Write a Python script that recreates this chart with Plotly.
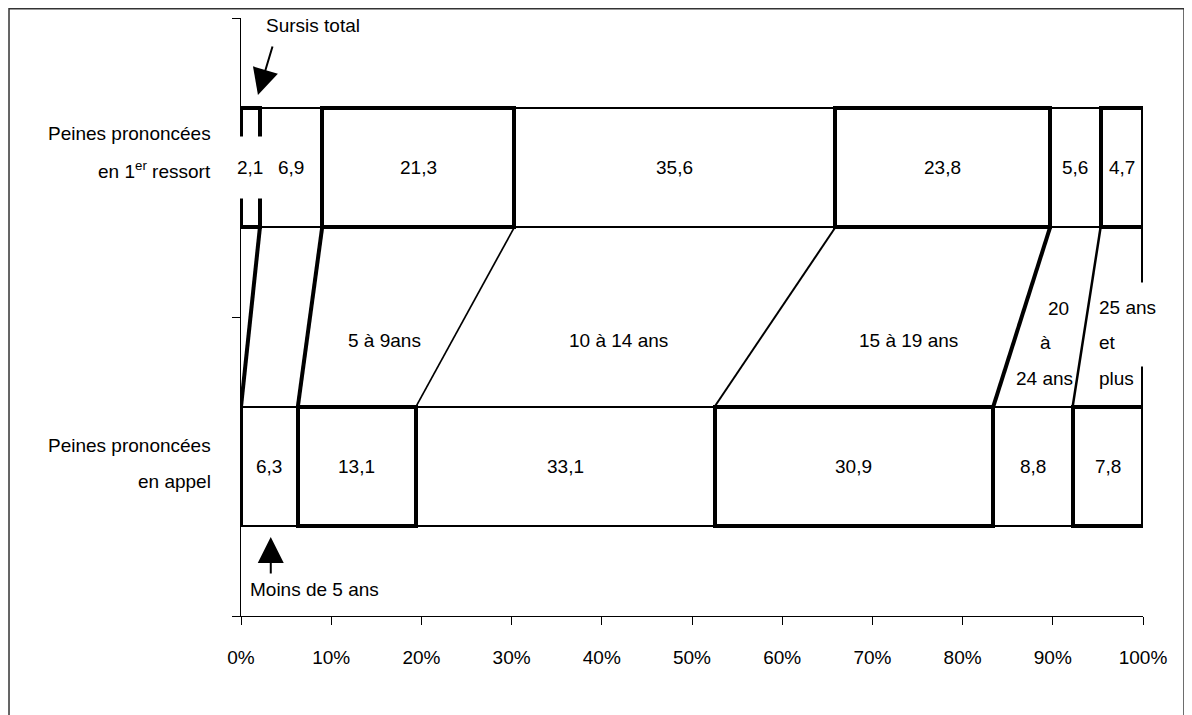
import plotly.graph_objects as go

# ---------------- data ----------------
series_names = ["Sursis total", "Moins de 5 ans", "5 à 9 ans", "10 à 14 ans",
                "15 à 19 ans", "20 à 24 ans", "25 ans et plus"]
first_instance = [2.1, 6.9, 21.3, 35.6, 23.8, 5.6, 4.7]
appeal = [0.0, 6.3, 13.1, 33.1, 30.9, 8.8, 7.8]
cat_positions = [1, 0]          # 1 = 1er ressort (top), 0 = appel (bottom)
x_ticks = [0, 10, 20, 30, 40, 50, 60, 70, 80, 90, 100]

# ---------------- styles ----------------
FONT = "Liberation Sans, Arial, sans-serif"
FS = 19
border_w = [4, 1.7, 4, 1.7, 4, 1.7, 4]
link_w = [4, 4, 1.7, 2, 4, 2.5, 4]
BAR_W = 0.4

def fmt(v):
    return ("%.1f" % v).replace(".", ",")

fig = go.Figure()
for i, name in enumerate(series_names):
    fig.add_trace(go.Bar(
        y=cat_positions, x=[first_instance[i], appeal[i]], name=name,
        orientation="h", width=BAR_W,
        marker=dict(color="rgba(255,255,255,0)", line=dict(color="black", width=border_w[i])),
        hoverinfo="skip", showlegend=False))

# cumulative sums for connecting lines and label positions
cum_top, cum_bot = [], []
s1 = s2 = 0.0
for a, b in zip(first_instance, appeal):
    s1 += a; s2 += b
    cum_top.append(s1); cum_bot.append(s2)

shapes = []
for i in range(len(series_names)):
    shapes.append(dict(type="line", xref="x", yref="y",
                       x0=cum_top[i], y0=cat_positions[0] - BAR_W / 2,
                       x1=cum_bot[i], y1=cat_positions[1] + BAR_W / 2,
                       line=dict(color="black", width=link_w[i])))
# outer frame
shapes.append(dict(type="rect", xref="paper", yref="paper",
                   x0=-0.2572, x1=1.0455, y0=-0.2, y1=1.0155,
                   line=dict(color="#333333", width=1.5), layer="below"))

ann = []
# data labels
for vals, cums, yc in [(first_instance, cum_top, cat_positions[0]), (appeal, cum_bot, cat_positions[1])]:
    for v, c in zip(vals, cums):
        if v <= 0:
            continue
        small = v < 3
        ann.append(dict(x=c - v / 2, y=yc, xref="x", yref="y", text=fmt(v), showarrow=False,
                        font=dict(family=FONT, size=FS, color="black"),
                        bgcolor="white" if small else None, borderpad=20 if small else 0))

# category labels
cat_lines = [("Peines prononcées", 1.1154), ("en 1<sup>er</sup> ressort", 0.9916),
             ("Peines prononcées", 0.0719), ("en appel", -0.0485)]
for t, yy in cat_lines:
    ann.append(dict(x=-0.0310, xref="paper", y=yy, yref="y", text=t, showarrow=False,
                    xanchor="right", font=dict(family=FONT, size=FS, color="black")))

# middle range labels
mid_labels = [("5 à 9ans", 15.96, 0.423), ("10 à 14 ans", 41.8, 0.423),
              ("15 à 19 ans", 74.0, 0.423),
              ("20", 90.6, 0.530), ("à", 89.2, 0.4164), ("24 ans", 89.1, 0.296)]
for t, xx, yy in mid_labels:
    ann.append(dict(x=xx, y=yy, xref="x", yref="y", text=t, showarrow=False, xanchor="center",
                    font=dict(family=FONT, size=FS, color="black")))
# 25 ans et plus (white box masks the right link line)
ann.append(dict(x=94.9, y=0.5334, xref="x", yref="y", text="25 ans", showarrow=False, xanchor="left",
                width=66, height=46, align="left", bgcolor="white",
                font=dict(family=FONT, size=FS, color="black")))
ann.append(dict(x=94.9, y=0.4164, xref="x", yref="y", text="et", showarrow=False, xanchor="left",
                width=66, height=46, align="left", bgcolor="white",
                font=dict(family=FONT, size=FS, color="black")))
ann.append(dict(x=94.9, y=0.296, xref="x", yref="y", text="plus", showarrow=False, xanchor="left",
                width=66, align="left",
                font=dict(family=FONT, size=FS, color="black")))

# arrow labels
ann.append(dict(x=7.98, y=1.4766, xref="x", yref="y", text="Sursis total", showarrow=False,
                font=dict(family=FONT, size=FS, color="black")))
ann.append(dict(x=1.88, y=1.2425, xref="x", yref="y", text="", showarrow=True,
                ax=15, ay=-50, arrowhead=2, arrowsize=2.6, arrowwidth=2, arrowcolor="black"))
ann.append(dict(x=0.78, y=-0.413, xref="x", yref="y", text="Moins de 5 ans", showarrow=False,
                xanchor="left", font=dict(family=FONT, size=FS, color="black")))
ann.append(dict(x=3.3, y=-0.236, xref="x", yref="y", text="", showarrow=True,
                ax=0, ay=38, arrowhead=2, arrowsize=2.6, arrowwidth=2, arrowcolor="black"))

# page body has an 8px margin: shrink figure so that it fits the 1192x715 window
fig.update_layout(
    barmode="stack", width=1184, height=707,
    margin=dict(l=233, r=49, t=10, b=99),
    paper_bgcolor="white", plot_bgcolor="white",
    shapes=shapes, annotations=ann, showlegend=False,
    xaxis=dict(range=[0, 100], tickvals=x_ticks, ticktext=[f"{v}%" for v in x_ticks],
               showgrid=False, zeroline=False, showline=True, linecolor="black", linewidth=1.2,
               ticks="outside", ticklen=8, tickcolor="black", tickwidth=1.2,
               ticklabelstandoff=16,
               tickfont=dict(family=FONT, size=FS, color="black")),
    yaxis=dict(range=[-0.5, 1.5], tickvals=[-0.5, 0.5, 1.5], showticklabels=False,
               showgrid=False, zeroline=False, showline=True, linecolor="black", linewidth=1.2,
               ticks="outside", ticklen=8, tickcolor="black", tickwidth=1.2),
)

fig.write_html("out.html")
